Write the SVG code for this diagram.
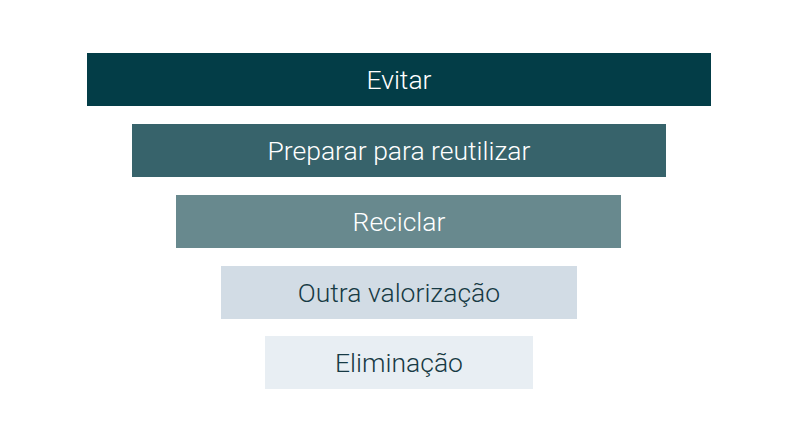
<svg xmlns="http://www.w3.org/2000/svg" width="792" height="446" viewBox="0 0 792 446">
<style>
.lbl{font-family:Roboto,"Liberation Sans",sans-serif;font-size:26.5px;text-anchor:middle;font-weight:300}
.lt{fill:#ffffff}
.dk{fill:#173a44}
</style>
<rect width="792" height="446" fill="#ffffff"/>
<g id="evitar"><rect x="87" y="53" width="624" height="53" fill="#033d47"/><text class="lbl lt" x="399" y="88.5">Evitar</text></g>
<g id="preparar"><rect x="132" y="124" width="534" height="53" fill="#37636b"/><text class="lbl lt" x="399" y="159.5">Preparar para reutilizar</text></g>
<g id="reciclar"><rect x="176" y="195" width="445" height="53" fill="#68898e"/><text class="lbl lt" x="399" y="230.5">Reciclar</text></g>
<g id="outra"><rect x="221" y="266" width="356" height="53" fill="#d2dce5"/><text class="lbl dk" x="399" y="301.5">Outra valorização</text></g>
<g id="eliminacao"><rect x="265" y="336" width="268" height="53" fill="#e8eef3"/><text class="lbl dk" x="399" y="371.5">Eliminação</text></g>
<g id="connectors"></g>
</svg>
